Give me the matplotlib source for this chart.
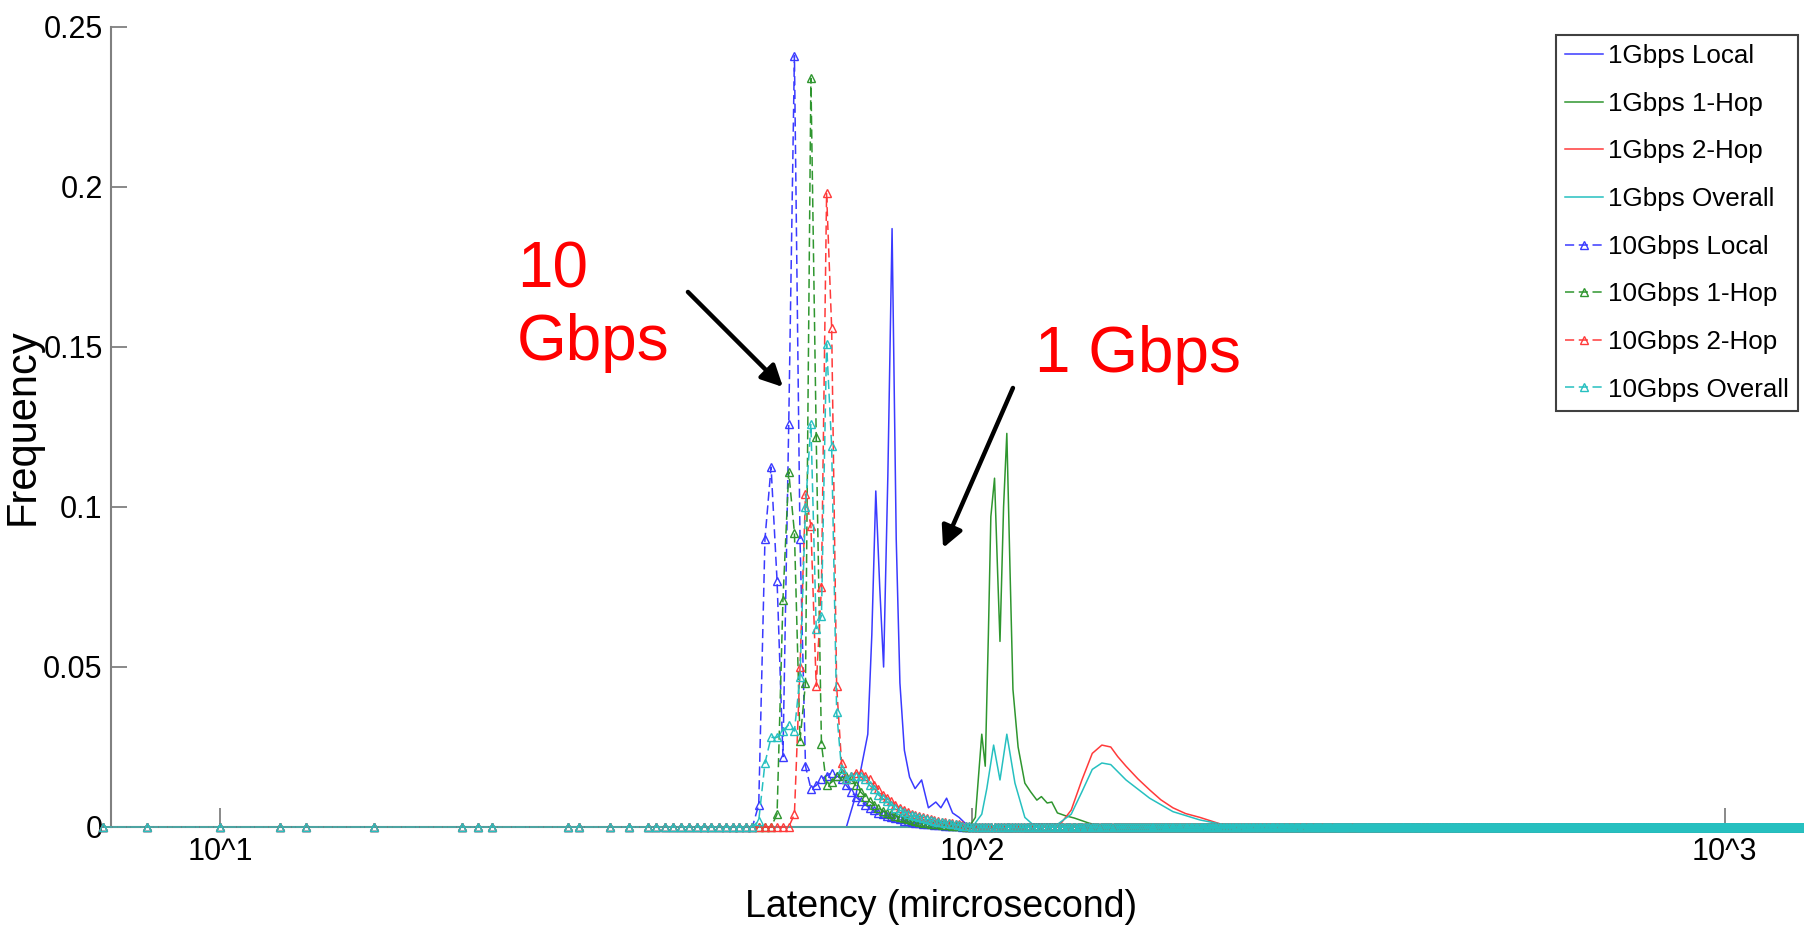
import numpy as np
import matplotlib
matplotlib.use('Agg')
import matplotlib.pyplot as plt
from matplotlib.ticker import FixedLocator, NullLocator

plt.rcParams['font.family'] = ['Liberation Sans', 'DejaVu Sans']
NARROW = ['Liberation Sans Narrow', 'Liberation Sans', 'DejaVu Sans']

# ---- 1 Gbps latency histograms (solid lines), latency in microseconds ----
g1_local_x = [7, 66, 68, 70, 72.6, 73.5, 74.4, 75.3, 76.2, 77.2, 78.2, 79.2, 80.1, 81.2,
              82.5, 83.9, 85.6, 87.4, 89.4, 90.8, 92.4, 94.1, 96, 99, 1300]
g1_local_y = [0, 0, 0, 0.010, 0.029, 0.060, 0.105, 0.075, 0.050, 0.110, 0.187, 0.090, 0.045, 0.024,
              0.0156, 0.012, 0.0147, 0.006, 0.0078, 0.006, 0.009, 0.0044, 0.003, 0, 0]

g1_1hop_x = [7, 99, 100.9, 102.9, 104.0, 105.0, 105.8, 107.0, 108.0, 108.8, 110.0, 111.1, 112.2,
             113.2, 115, 117.4, 119.5, 121.8, 123.5, 125.7, 127.5, 129.7, 133, 136.6, 142.9, 150, 1300]
g1_1hop_y = [0, 0, 0.003, 0.029, 0.019, 0.060, 0.097, 0.109, 0.080, 0.058, 0.100, 0.123, 0.080,
             0.043, 0.025, 0.0137, 0.011, 0.0084, 0.0095, 0.0075, 0.0078, 0.0044, 0.0035, 0.0028, 0.0012, 0, 0]

g1_2hop_x = [7, 130, 135.3, 139.8, 144.3, 148.6, 152.7, 156, 160, 166, 172, 178, 184.7, 192,
             200.6, 210, 220, 1300]
g1_2hop_y = [0, 0, 0.0053, 0.0147, 0.023, 0.0256, 0.025, 0.022, 0.019, 0.015, 0.0116, 0.0085, 0.006, 0.0042,
             0.003, 0.0015, 0, 0]

g1_all_x = [7, 100, 102.9, 104.5, 106.7, 108.8, 111.1, 113.9, 117.4, 120, 130, 135.3, 139.8, 144.3,
            148.6, 152.7, 160, 172, 184.7, 200.6, 215, 225, 1300]
g1_all_y = [0, 0, 0.004, 0.012, 0.0256, 0.0147, 0.029, 0.0137, 0.003, 0.001, 0.001, 0.004, 0.011, 0.018,
            0.020, 0.0195, 0.0147, 0.009, 0.0048, 0.0022, 0.0008, 0, 0]

# ---- 10 Gbps histograms (dashed + triangles), 1 us bins ----
bins_left = [7, 8, 10, 12, 13, 16, 21, 22, 23, 29, 30, 33, 35]
bins_rise = list(range(37, 50))
bins_peak = list(range(50, 100))
bins_tail = list(range(100, 1301))

g10_local = [0, 0, 0.007, 0.090, 0.1125, 0.077, 0.022, 0.126, 0.241, 0.090,
             0.019, 0.012, 0.013, 0.015, 0.016, 0.017, 0.016, 0.015, 0.013, 0.011,
             0.0095, 0.008, 0.007, 0.006, 0.0052, 0.0045, 0.004, 0.0035, 0.003, 0.0027,
             0.0024, 0.002, 0.0018, 0.0016, 0.0014, 0.0012, 0.001, 0.001, 0.0008, 0.0007,
             0.0006, 0.0005, 0.0004, 0.0003, 0.0003, 0.0002, 0.0002, 0.0001, 0.0001, 0]
g10_1hop = [0, 0, 0, 0, 0, 0.004, 0.071, 0.111, 0.092, 0.027,
            0.045, 0.234, 0.122, 0.026, 0.013, 0.014, 0.016, 0.017, 0.016, 0.015,
            0.013, 0.011, 0.0095, 0.008, 0.007, 0.006, 0.005, 0.0045, 0.004, 0.0035,
            0.003, 0.0027, 0.0024, 0.0021, 0.0018, 0.0016, 0.0014, 0.0012, 0.001, 0.0009,
            0.0008, 0.0007, 0.0006, 0.0005, 0.0004, 0.0003, 0.0003, 0.0002, 0.0001, 0]
g10_2hop = [0, 0, 0, 0, 0, 0, 0, 0, 0.004, 0.050,
            0.104, 0.094, 0.044, 0.075, 0.198, 0.156, 0.044, 0.020, 0.015, 0.016,
            0.017, 0.017, 0.016, 0.015, 0.013, 0.012, 0.010, 0.009, 0.008, 0.007,
            0.006, 0.0053, 0.0047, 0.0042, 0.0037, 0.0033, 0.003, 0.0027, 0.0024, 0.0021,
            0.0019, 0.0017, 0.0015, 0.0013, 0.0011, 0.001, 0.0008, 0.0006, 0.0004, 0.0002]
g10_all = [0, 0, 0.002, 0.020, 0.028, 0.028, 0.030, 0.032, 0.030, 0.047,
           0.100, 0.126, 0.062, 0.066, 0.151, 0.119, 0.036, 0.018, 0.015, 0.016,
           0.016, 0.016, 0.015, 0.013, 0.012, 0.010, 0.009, 0.008, 0.007, 0.006,
           0.0053, 0.0047, 0.0042, 0.0037, 0.0033, 0.003, 0.0027, 0.0024, 0.0021, 0.0019,
           0.0017, 0.0015, 0.0013, 0.0011, 0.001, 0.0008, 0.0006, 0.0004, 0.0003, 0.0002]

labels = ['1Gbps Local', '1Gbps 1-Hop', '1Gbps 2-Hop', '1Gbps Overall',
          '10Gbps Local', '10Gbps 1-Hop', '10Gbps 2-Hop', '10Gbps Overall']
colors = ['#3a3aff', '#2f962f', '#ff3a3a', '#26c0c0']

x_ticks = [10, 100, 1000]
x_ticklabels = ['10^1', '10^2', '10^3']
y_ticks = [0, 0.05, 0.1, 0.15, 0.2, 0.25]
y_ticklabels = ['0', '0.05', '0.1', '0.15', '0.2', '0.25']


def full_series(vals):
    x = np.array(bins_left + bins_rise + bins_peak + bins_tail, dtype=float)
    y = np.concatenate([np.zeros(len(bins_left) + len(bins_rise)), vals, np.zeros(len(bins_tail))])
    return x, y


fig = plt.figure(figsize=(18.04, 9.32), dpi=100)
ax = fig.add_axes([111 / 1804, 105 / 932, 1693 / 1804, 800 / 932])

solid = [(g1_local_x, g1_local_y), (g1_1hop_x, g1_1hop_y),
         (g1_2hop_x, g1_2hop_y), (g1_all_x, g1_all_y)]
for (xs, ys), c, lab in zip(solid, colors, labels[:4]):
    ax.plot(xs, ys, color=c, lw=1.1, label=lab, zorder=3, clip_on=False)

for vals, c, lab in zip([g10_local, g10_1hop, g10_2hop, g10_all], colors, labels[4:]):
    xs, ys = full_series(vals)
    ax.plot(xs, ys, color=c, lw=1.1, dashes=(6, 3), marker='^', markersize=6,
            mfc='none', mec=c, mew=1.0, label=lab, zorder=3, clip_on=False)

ax.set_xscale('log')
ax.set_xlim(7.164, 1274)
ax.set_ylim(0, 0.25)
ax.xaxis.set_major_locator(FixedLocator(x_ticks))
ax.xaxis.set_minor_locator(NullLocator())
ax.set_xticklabels(x_ticklabels)
ax.set_yticks(y_ticks)
ax.set_yticklabels(y_ticklabels)

for s in ['top', 'right']:
    ax.spines[s].set_visible(False)
for s in ['left', 'bottom']:
    ax.spines[s].set_color('#808080')
    ax.spines[s].set_linewidth(1.5)

ax.tick_params(axis='x', direction='in', length=14, width=1.3, color='#808080',
               pad=7, labelsize=22, labelfontfamily=NARROW)
ax.tick_params(axis='y', direction='in', length=11.5, width=1.3, color='#808080',
               pad=6, labelsize=22, labelfontfamily=NARROW)

ax.set_xlabel('Latency (mircrosecond)', fontsize=27, family=NARROW, va='center')
ax.xaxis.set_label_coords(0.490, -0.10)
ax.set_ylabel('Frequency', fontsize=30, va='center')
ax.yaxis.set_label_coords(-0.052, 0.50)

# annotations
ax.text(24.8, 0.16875, '10', color='#ff0000', fontsize=46, va='baseline', ha='left')
ax.text(24.8, 0.1459, 'Gbps', color='#ff0000', fontsize=46, va='baseline', ha='left')
ax.text(121.1, 0.1422, '1 Gbps', color='#ff0000', fontsize=46, va='baseline', ha='left')
arrow = dict(arrowstyle='-|>', lw=3.2, color='black', mutation_scale=32, shrinkA=0, shrinkB=0)
ax.annotate('', xy=(56.0, 0.1375), xytext=(41.87, 0.1672), arrowprops=arrow, zorder=5)
ax.annotate('', xy=(91.4, 0.0872), xytext=(113.2, 0.1372), arrowprops=arrow, zorder=5)

leg = ax.legend(loc='upper right', bbox_to_anchor=(1798 / 1804, 1 - 35 / 932),
                bbox_transform=fig.transFigure, borderaxespad=0, fontsize=18.7,
                fancybox=False, framealpha=1, edgecolor='#404040', borderpad=0.35,
                handlelength=1.45, handletextpad=0.2, labelspacing=0.91, numpoints=1)
leg.get_frame().set_linewidth(1.5)
leg.set_zorder(10)

fig.savefig('out.png', dpi=100)
